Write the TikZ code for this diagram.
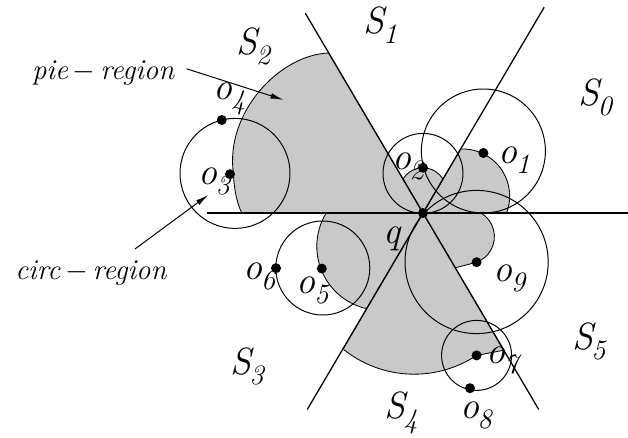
\documentclass[tikz,border=0pt]{standalone}
\usepackage{fontspec}
\usetikzlibrary{arrows.meta, calc}
\newcommand{\ix}[2]{{\itshape #1}\kern-0.04em\raisebox{-0.26em}{\fontsize{20}{20}\selectfont\itshape #2}}

\begin{document}
\begin{tikzpicture}[
  lbl/.style={font=\fontsize{27}{27}\selectfont, inner sep=0pt, anchor=base west},
  txt/.style={font=\fontsize{20.5}{20.5}\selectfont\itshape, inner sep=0pt, anchor=base west},
  region/.style={fill=gray!42, draw=black, line width=0.6pt},
  ring/.style={draw=black, line width=0.7pt},
  ray/.style={line width=0.9pt},
  pointer/.style={line width=0.7pt, -{Latex[length=3.2mm,width=1.4mm]}}
]
  \useasboundingbox (-10.575,-5.625) rectangle (5.125,5.325);
  \coordinate (q) at (0,0);
  % pie regions, one per sector
  \path[region] (q) -- (-2.36,4.0) .. controls (-3.6,3.95) and (-4.95,2.5) .. (-4.74,0.99)
    .. controls (-4.72,0.55) and (-4.65,0.25) .. (-4.53,0) -- cycle;
  \path[region] (q) -- (-2.42,0) arc[start angle=148.5, end angle=257.3, radius=1.596] -- cycle;
  \path[region] (q) -- (-2.0,-3.4) arc[start angle=231, end angle=303.5, radius=2.827] -- (2.02,-3.43) -- cycle;
  \path[region] (q) -- (1.45,0) arc[start angle=59.3, end angle=-69.5, radius=0.685] -- (0.81,-1.37) -- cycle;
  \path[region] (q) -- (0.94,1.6) arc[start angle=92.3, end angle=-20.9, radius=1.18] -- cycle;
  \path[region] (q) -- (-0.5,0.85) arc[start angle=148.5, end angle=31.5, radius=0.586] -- cycle;
  % objects
  \coordinate (o1) at (1.51,1.5);
  \coordinate (o2) at (0,1.13);
  \coordinate (o3) at (-4.825,0.97);
  \coordinate (o4) at (-5.03,2.325);
  \coordinate (o5) at (-2.53,-1.39);
  \coordinate (o6) at (-3.675,-1.38);
  \coordinate (o7) at (1.34,-3.56);
  \coordinate (o8) at (1.175,-4.38);
  \coordinate (o9) at (1.34,-1.23);
  % circ regions
  \draw[ring] (1.51,1.55) circle (1.55);
  \draw[ring] (0,0.99) circle (1.0);
  \draw[ring] (-4.7,0.99) circle (1.375);
  \draw[ring] (-2.505,-1.375) circle (1.175);
  \draw[ring] (1.34,-3.56) circle (0.875);
  \draw[ring] (1.34,-1.225) circle (1.79);
  % space partition
  \coordinate (h0) at (-5.4,0);
  \coordinate (h1) at (5.125,0);
  \draw[line width=1.3pt] (h0) -- (h1);
  \draw[ray] (120.5:5.8) -- (-59.5:5.7);
  \draw[ray] (59.5:5.97) -- (239.5:5.7);
  \foreach \o in {q,o1,o2,o3,o4,o5,o6,o7,o8,o9}
    \fill (\o) circle (0.125);
  % labels
  \node[lbl] (S0) at (3.88,2.675) {\ix{S}{0}};
  \node[lbl] (S1) at (-1.49,4.49) {\ix{S}{1}};
  \node[lbl] (S2) at (-4.66,3.95) {\ix{S}{2}};
  \node[lbl] (S3) at (-4.825,-4.05) {\ix{S}{3}};
  \node[lbl] (S4) at (-0.975,-5.15) {\ix{S}{4}};
  \node[lbl] (S5) at (3.72,-3.425) {\ix{S}{5}};
  \node[lbl] (ql) at (-0.99,-0.76) {\itshape q};
  \node[lbl] (o1l) at (1.88,1.24) {\ix{o}{1}};
  \node[lbl] (o2l) at (-0.78,1.075) {\ix{o}{2}};
  \node[lbl] (o3l) at (-5.62,0.7) {\ix{o}{3}};
  \node[lbl] (o4l) at (-5.24,2.825) {\ix{o}{4}};
  \node[lbl] (o5l) at (-3.16,-2.01) {\ix{o}{5}};
  \node[lbl] (o6l) at (-4.49,-1.675) {\ix{o}{6}};
  \node[lbl] (o7l) at (1.59,-3.76) {\ix{o}{7}};
  \node[lbl] (o8l) at (0.925,-5.13) {\ix{o}{8}};
  \node[lbl] (o9l) at (1.76,-1.72) {\ix{o}{9}};
  \node[txt] (pie) at (-9.78,3.325) {pie\,$-$\,region};
  \node[txt] (circ) at (-10.2,-1.675) {circ\,$-$\,region};
  \coordinate (pietip) at (-3.49,2.83);
  \coordinate (circtip) at (-5.37,0.45);
  \draw[pointer] ($(pie.east)+(0.3,0.12)$) -- (pietip);
  \draw[pointer] ($(circ.north west)+(3.0,0.3)$) -- (circtip);
\end{tikzpicture}
\end{document}
